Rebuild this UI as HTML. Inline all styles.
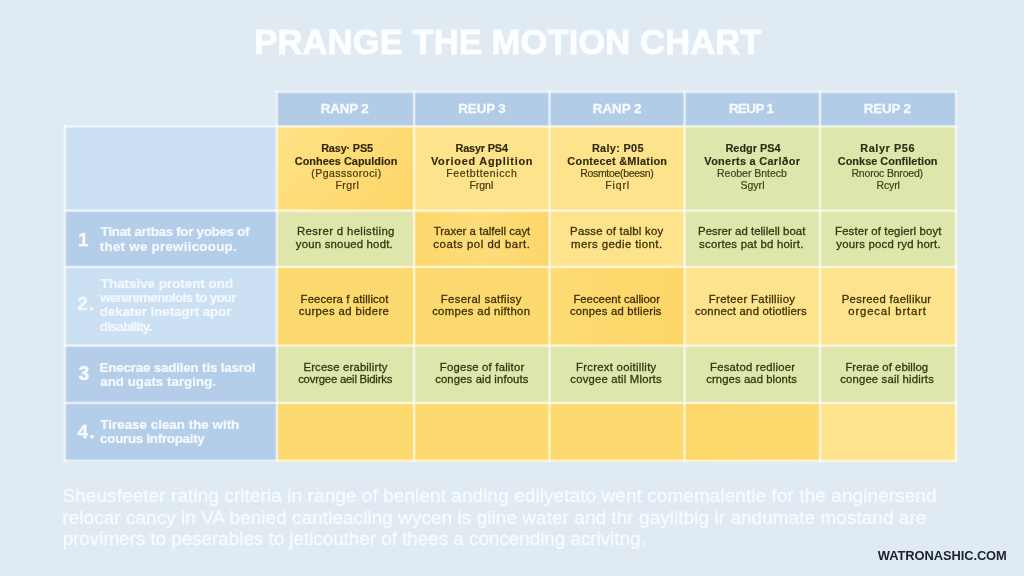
<!DOCTYPE html>
<html lang="en"><head><meta charset="utf-8"><title>PRANGE THE MOTION CHART</title>
<style>
html,body{margin:0;padding:0}
body{width:1024px;height:576px;overflow:hidden;background:#dfeaf2;font-family:"Liberation Sans",sans-serif;position:relative}
.c{position:absolute}
.x{position:absolute;white-space:nowrap;line-height:20px;height:20px}
.title{font-weight:bold;color:#fdfeff;-webkit-text-stroke:.8px currentColor}
.h{font-weight:bold;color:#f7fafd;-webkit-text-stroke:.3px currentColor}
.b{font-weight:bold;-webkit-text-stroke:.15px currentColor}
.b.y{color:#33290f}
.b.g{color:#2c2e14}
.r.y{color:#44360e;-webkit-text-stroke:.2px currentColor}
.r.g{color:#3e421c;-webkit-text-stroke:.2px currentColor}
.m{-webkit-text-stroke:.3px currentColor}
.m.y{color:#3f3008}
.m.g{color:#333812}
.n{font-weight:bold;color:#f7fafe;-webkit-text-stroke:.3px currentColor}
.l{font-weight:bold;color:#f5f9fe;-webkit-text-stroke:.2px currentColor}
.lt{color:#f2f8fe}
.p{color:#f8fbfe;-webkit-text-stroke:.3px currentColor}
.wm{font-weight:bold;color:#1c232d}

</style></head><body>
<div class="c" style="left:276px;top:91px;width:138px;height:35px;background:#b2cce8"></div>
<div class="c" style="left:414px;top:91px;width:136px;height:35px;background:#b2cce8"></div>
<div class="c" style="left:550px;top:91px;width:135px;height:35px;background:#b2cce8"></div>
<div class="c" style="left:685px;top:91px;width:135px;height:35px;background:#b2cce8"></div>
<div class="c" style="left:820px;top:91px;width:137px;height:35px;background:#b2cce8"></div>
<div class="c" style="left:64px;top:125px;width:213px;height:86px;background:#cce0f3"></div>
<div class="c" style="left:277px;top:126px;width:137px;height:85px;background:linear-gradient(135deg,#fee286,#fdd668)"></div>
<div class="c" style="left:414px;top:126px;width:136px;height:85px;background:#fde48c"></div>
<div class="c" style="left:550px;top:126px;width:135px;height:85px;background:#fde48c"></div>
<div class="c" style="left:685px;top:126px;width:135px;height:85px;background:#dfe6ac"></div>
<div class="c" style="left:820px;top:126px;width:137px;height:85px;background:#dfe6ac"></div>
<div class="c" style="left:64px;top:211px;width:213px;height:56px;background:#b4ceea"></div>
<div class="c" style="left:277px;top:211px;width:137px;height:56px;background:#dfe6ac"></div>
<div class="c" style="left:414px;top:211px;width:136px;height:56px;background:linear-gradient(90deg,#fdd76c,#fddd7a 50%,#fdd66a)"></div>
<div class="c" style="left:550px;top:211px;width:135px;height:56px;background:#fde48c"></div>
<div class="c" style="left:685px;top:211px;width:135px;height:56px;background:#dfe6ac"></div>
<div class="c" style="left:820px;top:211px;width:137px;height:56px;background:#dfe6ac"></div>
<div class="c" style="left:64px;top:267px;width:213px;height:79px;background:#cce0f3"></div>
<div class="c" style="left:277px;top:267px;width:137px;height:79px;background:#fdda6f"></div>
<div class="c" style="left:414px;top:267px;width:136px;height:79px;background:#fdda6f"></div>
<div class="c" style="left:550px;top:267px;width:135px;height:79px;background:linear-gradient(90deg,#fddc74,#fdd668)"></div>
<div class="c" style="left:685px;top:267px;width:135px;height:79px;background:#fde48c"></div>
<div class="c" style="left:820px;top:267px;width:137px;height:79px;background:#fde48c"></div>
<div class="c" style="left:64px;top:346px;width:213px;height:57px;background:#b4ceea"></div>
<div class="c" style="left:277px;top:346px;width:137px;height:57px;background:#dfe6ac"></div>
<div class="c" style="left:414px;top:346px;width:136px;height:57px;background:#dfe6ac"></div>
<div class="c" style="left:550px;top:346px;width:135px;height:57px;background:#dfe6ac"></div>
<div class="c" style="left:685px;top:346px;width:135px;height:57px;background:#dfe6ac"></div>
<div class="c" style="left:820px;top:346px;width:137px;height:57px;background:#dfe6ac"></div>
<div class="c" style="left:64px;top:403px;width:213px;height:59px;background:#b4ceea"></div>
<div class="c" style="left:277px;top:403px;width:137px;height:59px;background:#fdda6f"></div>
<div class="c" style="left:414px;top:403px;width:136px;height:59px;background:#fdda6f"></div>
<div class="c" style="left:550px;top:403px;width:135px;height:59px;background:#fdda6f"></div>
<div class="c" style="left:685px;top:403px;width:135px;height:59px;background:linear-gradient(90deg,#fdd76a,#fdd96e)"></div>
<div class="c" style="left:820px;top:403px;width:137px;height:59px;background:#fde48c"></div>
<svg class="c" width="1024" height="576" viewBox="0 0 1024 576" style="left:0;top:0">
<g fill="#fff" fill-opacity="0.24">
<rect x="275.20" y="90.20" width="682.40" height="3.20"/>
<rect x="63.30" y="124.80" width="894.30" height="3.20"/>
<rect x="63.30" y="209.10" width="894.30" height="3.20"/>
<rect x="63.30" y="265.30" width="894.30" height="3.20"/>
<rect x="63.30" y="344.00" width="894.30" height="3.20"/>
<rect x="63.30" y="401.30" width="894.30" height="3.20"/>
<rect x="63.30" y="459.20" width="894.30" height="3.20"/>
<rect x="63.30" y="124.80" width="3.20" height="337.60"/>
<rect x="275.20" y="90.20" width="3.20" height="372.20"/>
<rect x="412.50" y="90.20" width="3.20" height="372.20"/>
<rect x="547.90" y="90.20" width="3.20" height="372.20"/>
<rect x="683.00" y="90.20" width="3.20" height="372.20"/>
<rect x="818.50" y="90.20" width="3.20" height="372.20"/>
<rect x="954.40" y="90.20" width="3.20" height="372.20"/>
</g>
<g fill="#fff" fill-opacity="0.58">
<rect x="275.80" y="90.80" width="681.20" height="2.00"/>
<rect x="63.90" y="125.40" width="893.10" height="2.00"/>
<rect x="63.90" y="209.70" width="893.10" height="2.00"/>
<rect x="63.90" y="265.90" width="893.10" height="2.00"/>
<rect x="63.90" y="344.60" width="893.10" height="2.00"/>
<rect x="63.90" y="401.90" width="893.10" height="2.00"/>
<rect x="63.90" y="459.80" width="893.10" height="2.00"/>
<rect x="63.90" y="125.40" width="2.00" height="336.40"/>
<rect x="275.80" y="90.80" width="2.00" height="371.00"/>
<rect x="413.10" y="90.80" width="2.00" height="371.00"/>
<rect x="548.50" y="90.80" width="2.00" height="371.00"/>
<rect x="683.60" y="90.80" width="2.00" height="371.00"/>
<rect x="819.10" y="90.80" width="2.00" height="371.00"/>
<rect x="955.00" y="90.80" width="2.00" height="371.00"/>
</g>
</svg>
<div id="t0" class="x title" style="left:254.35px;top:31.81px;font-size:34.60px;letter-spacing:0.085px">PRANGE THE MOTION CHART</div>
<div id="t1" class="x h" style="left:320.86px;top:98.96px;font-size:13.40px;letter-spacing:-0.181px">RANP 2</div>
<div id="t2" class="x h" style="left:458.30px;top:98.96px;font-size:13.40px;letter-spacing:-0.135px">REUP 3</div>
<div id="t3" class="x h" style="left:592.86px;top:98.96px;font-size:13.40px;letter-spacing:-0.044px">RANP 2</div>
<div id="t4" class="x h" style="left:728.94px;top:98.96px;font-size:13.40px;letter-spacing:-0.600px">REUP 1</div>
<div id="t5" class="x h" style="left:863.86px;top:98.96px;font-size:13.40px;letter-spacing:-0.230px">REUP 2</div>
<div id="t6" class="x b y" style="left:321.15px;top:137.82px;font-size:10.90px;letter-spacing:-0.162px">Rasy· PS5</div>
<div id="t7" class="x b y" style="left:294.81px;top:150.92px;font-size:10.90px;letter-spacing:0.018px">Conhees Capuldion</div>
<div id="t8" class="x r y" style="left:311.21px;top:162.76px;font-size:10.50px;letter-spacing:0.483px">(Pgasssoroci)</div>
<div id="t9" class="x r y" style="left:335.41px;top:174.66px;font-size:10.50px;letter-spacing:0.444px">Frgrl</div>
<div id="t10" class="x b y" style="left:455.47px;top:137.82px;font-size:10.90px;letter-spacing:-0.166px">Rasyr PS4</div>
<div id="t11" class="x b y" style="left:430.92px;top:150.92px;font-size:10.90px;letter-spacing:0.755px">Vorioed Agplition</div>
<div id="t12" class="x r y" style="left:446.15px;top:162.76px;font-size:10.50px;letter-spacing:0.637px">Feetbttenicch</div>
<div id="t13" class="x r y" style="left:469.45px;top:174.66px;font-size:10.50px;letter-spacing:-0.031px">Frgnl</div>
<div id="t14" class="x b y" style="left:591.93px;top:137.82px;font-size:10.90px;letter-spacing:0.310px">Raly: P05</div>
<div id="t15" class="x b y" style="left:567.37px;top:150.92px;font-size:10.90px;letter-spacing:0.253px">Contecet &amp;Mlation</div>
<div id="t16" class="x r y" style="left:580.15px;top:162.76px;font-size:10.50px;letter-spacing:-0.300px">Rosmtoe(beesn)</div>
<div id="t17" class="x r y" style="left:605.33px;top:174.66px;font-size:10.50px;letter-spacing:0.854px">Fiqrl</div>
<div id="t18" class="x b g" style="left:725.47px;top:137.82px;font-size:10.90px;letter-spacing:0.006px">Redgr PS4</div>
<div id="t19" class="x b g" style="left:704.36px;top:150.92px;font-size:10.90px;letter-spacing:0.311px">Vonerts a Carlðor</div>
<div id="t20" class="x r g" style="left:717.00px;top:162.76px;font-size:10.50px;letter-spacing:-0.013px">Reober Bntecb</div>
<div id="t21" class="x r g" style="left:740.39px;top:174.66px;font-size:10.50px;letter-spacing:0.052px">Sgyrl</div>
<div id="t22" class="x b g" style="left:860.27px;top:137.82px;font-size:10.90px;letter-spacing:0.579px">Ralyr P56</div>
<div id="t23" class="x b g" style="left:837.81px;top:150.92px;font-size:10.90px;letter-spacing:0.028px">Conkse Confiletion</div>
<div id="t24" class="x r g" style="left:851.45px;top:162.76px;font-size:10.50px;letter-spacing:-0.188px">Rnoroc Bnroed)</div>
<div id="t25" class="x r g" style="left:876.45px;top:174.66px;font-size:10.50px;letter-spacing:-0.119px">Rcyrl</div>
<div id="t26" class="x m g" style="left:297.02px;top:221.35px;font-size:11.40px;letter-spacing:0.347px">Resrer d helistiing</div>
<div id="t27" class="x m g" style="left:295.87px;top:233.85px;font-size:11.40px;letter-spacing:0.193px">youn snoued hodt.</div>
<div id="t28" class="x m y" style="left:433.68px;top:221.35px;font-size:11.40px;letter-spacing:0.041px">Traxer a talfell cayt</div>
<div id="t29" class="x m y" style="left:433.37px;top:233.85px;font-size:11.40px;letter-spacing:0.537px">coats pol dd bart.</div>
<div id="t30" class="x m y" style="left:570.07px;top:221.35px;font-size:11.40px;letter-spacing:0.225px">Passe of talbl koy</div>
<div id="t31" class="x m y" style="left:571.09px;top:233.85px;font-size:11.40px;letter-spacing:0.426px">mers gedie tiont.</div>
<div id="t32" class="x m g" style="left:698.00px;top:221.35px;font-size:11.40px;letter-spacing:0.042px">Pesrer ad telilell boat</div>
<div id="t33" class="x m g" style="left:699.10px;top:233.85px;font-size:11.40px;letter-spacing:0.209px">scortes pat bd hoirt.</div>
<div id="t34" class="x m g" style="left:835.07px;top:221.35px;font-size:11.40px;letter-spacing:0.118px">Fester of tegierl boyt</div>
<div id="t35" class="x m g" style="left:836.26px;top:233.85px;font-size:11.40px;letter-spacing:0.194px">yours pocd ryd hort.</div>
<div id="t36" class="x m y" style="left:300.61px;top:289.08px;font-size:11.30px;letter-spacing:0.135px">Feecera f atillicot</div>
<div id="t37" class="x m y" style="left:298.65px;top:301.28px;font-size:11.30px;letter-spacing:0.406px">curpes ad bidere</div>
<div id="t38" class="x m y" style="left:440.73px;top:289.08px;font-size:11.30px;letter-spacing:0.363px">Feseral satfiisy</div>
<div id="t39" class="x m y" style="left:432.13px;top:301.28px;font-size:11.30px;letter-spacing:0.348px">compes ad nifthon</div>
<div id="t40" class="x m y" style="left:573.39px;top:289.08px;font-size:11.30px;letter-spacing:0.031px">Feeceent callioor</div>
<div id="t41" class="x m y" style="left:569.90px;top:301.28px;font-size:11.30px;letter-spacing:0.218px">conpes ad btlieris</div>
<div id="t42" class="x m y" style="left:708.80px;top:289.08px;font-size:11.30px;letter-spacing:0.338px">Freteer Fatilliioy</div>
<div id="t43" class="x m y" style="left:694.96px;top:301.28px;font-size:11.30px;letter-spacing:0.241px">connect and otiotliers</div>
<div id="t44" class="x m y" style="left:841.73px;top:289.08px;font-size:11.30px;letter-spacing:0.328px">Pesreed faellikur</div>
<div id="t45" class="x m y" style="left:848.37px;top:301.28px;font-size:11.30px;letter-spacing:0.848px">orgecal brtart</div>
<div id="t46" class="x m g" style="left:303.41px;top:356.78px;font-size:11.30px;letter-spacing:0.185px">Ercese erabilirty</div>
<div id="t47" class="x m g" style="left:298.18px;top:369.28px;font-size:11.30px;letter-spacing:-0.200px">covrgee aeil Bidirks</div>
<div id="t48" class="x m g" style="left:439.80px;top:356.78px;font-size:11.30px;letter-spacing:0.211px">Fogese of falitor</div>
<div id="t49" class="x m g" style="left:435.18px;top:369.28px;font-size:11.30px;letter-spacing:0.128px">conges aid infouts</div>
<div id="t50" class="x m g" style="left:576.00px;top:356.78px;font-size:11.30px;letter-spacing:0.288px">Frcrext ooitillity</div>
<div id="t51" class="x m g" style="left:570.31px;top:369.28px;font-size:11.30px;letter-spacing:0.201px">covgee atil Mlorts</div>
<div id="t52" class="x m g" style="left:710.02px;top:356.78px;font-size:11.30px;letter-spacing:0.227px">Fesatod redlioer</div>
<div id="t53" class="x m g" style="left:706.31px;top:369.28px;font-size:11.30px;letter-spacing:0.082px">crnges aad blonts</div>
<div id="t54" class="x m g" style="left:845.39px;top:356.78px;font-size:11.30px;letter-spacing:0.070px">Frerae of ebillog</div>
<div id="t55" class="x m g" style="left:840.18px;top:369.28px;font-size:11.30px;letter-spacing:0.178px">congee sail hidirts</div>
<div id="t56" class="x n" style="left:78.11px;top:229.72px;font-size:19.00px;letter-spacing:0.000px">1</div>
<div id="t57" class="x l d" style="left:100.77px;top:222.19px;font-size:13.30px;letter-spacing:-0.261px">Tinat artbas for yobes of</div>
<div id="t58" class="x l d" style="left:99.82px;top:236.99px;font-size:13.30px;letter-spacing:0.280px">thet we prewiicooup.</div>
<div id="t59" class="x n lt" style="left:77.37px;top:294.32px;font-size:19.00px;letter-spacing:1.045px">2.</div>
<div id="t60" class="x l lt" style="left:100.82px;top:274.39px;font-size:13.30px;letter-spacing:0.037px">Thatsive protent ond</div>
<div id="t61" class="x l lt" style="left:100.36px;top:287.79px;font-size:13.30px;letter-spacing:-0.661px">wereremenolois to your</div>
<div id="t62" class="x l lt" style="left:99.85px;top:301.79px;font-size:13.30px;letter-spacing:-0.033px">dekater inetagrt apor</div>
<div id="t63" class="x l lt" style="left:99.85px;top:317.19px;font-size:13.30px;letter-spacing:-0.811px">disability.</div>
<div id="t64" class="x n" style="left:78.40px;top:364.01px;font-size:19.30px;letter-spacing:0.000px">3</div>
<div id="t65" class="x l d" style="left:99.44px;top:358.39px;font-size:13.30px;letter-spacing:-0.143px">Enecrae sadilen tis lasrol</div>
<div id="t66" class="x l d" style="left:100.21px;top:372.39px;font-size:13.30px;letter-spacing:0.033px">and ugats targing.</div>
<div id="t67" class="x n" style="left:77.57px;top:422.12px;font-size:19.00px;letter-spacing:1.268px">4.</div>
<div id="t68" class="x l d" style="left:100.30px;top:414.69px;font-size:13.30px;letter-spacing:0.047px">Tirease clean the with</div>
<div id="t69" class="x l d" style="left:100.11px;top:428.69px;font-size:13.30px;letter-spacing:-0.247px">courus infropaity</div>
<div id="t70" class="x p" style="left:62.50px;top:486.35px;font-size:18.90px;letter-spacing:0.116px">Sheusfeeter rating criteria in range of benient anding edilyetato went comemalentie for the anginersend</div>
<div id="t71" class="x p" style="left:62.31px;top:508.05px;font-size:18.90px;letter-spacing:0.085px">relocar cancy in VA benied cantleacling wycen is giine water and thr gaylitbig ir andumate mostand are</div>
<div id="t72" class="x p" style="left:62.65px;top:528.75px;font-size:18.90px;letter-spacing:-0.042px">provimers to peserables to jeticouther of thees a concending acrivitng.</div>
<div id="t73" class="x wm" style="left:877.84px;top:546.33px;font-size:12.90px;letter-spacing:-0.080px">WATRONASHIC.COM</div>
</body></html>
